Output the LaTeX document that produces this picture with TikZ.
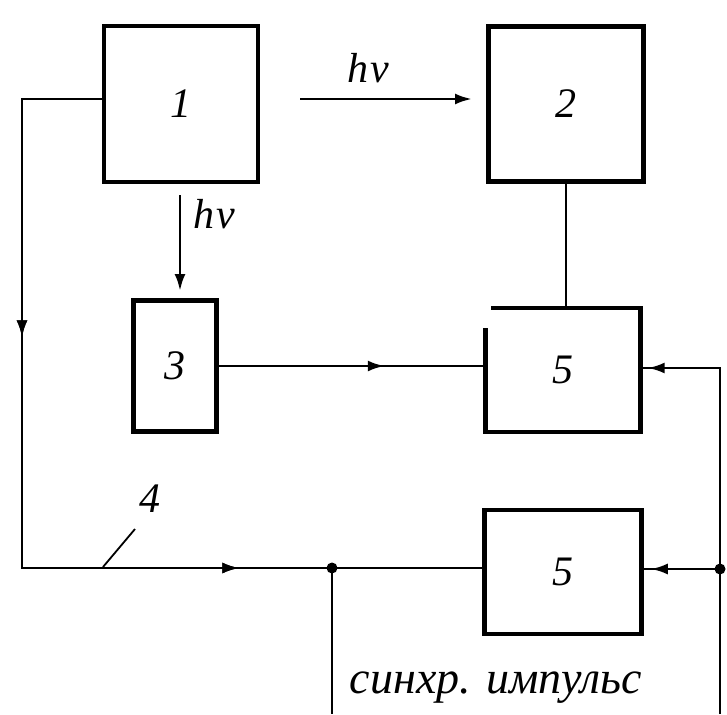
\documentclass[tikz,border=0pt]{standalone}
\usepackage{fontspec}
\setmainfont{Liberation Serif}
\usetikzlibrary{arrows.meta,decorations.markings}
\newcommand\numfont{\fontsize{42}{42}\selectfont\itshape}
\newcommand\hvfont{\fontsize{42}{42}\selectfont\itshape}
\newcommand\txtfont{\fontsize{46}{46}\selectfont\itshape}
\tikzset{
  blk/.style={draw, line width=4.5pt, inner sep=0pt},
  conn/.style={line width=2.8pt},
  tip/.style={-{Latex[length=17pt,width=11pt]}},
  midarrow/.style={postaction={decorate}, decoration={markings,
      mark=at position #1 with {\arrow{Latex[length=17pt,width=11pt]}}}},
}
\begin{document}
\begin{tikzpicture}[x=1pt,y=-1pt]
\useasboundingbox (0,0) rectangle (727,714);
% blocks
\node[blk, minimum width=154pt, minimum height=156pt] (b1) at (181,104) {\numfont 1};
\node[blk, minimum width=155pt, minimum height=155pt] (b2) at (566,104) {\numfont 2};
\node[blk, minimum width=83pt, minimum height=131pt] (b3) at (175,366) {\numfont 3};
\node[inner sep=0pt, minimum width=155pt, minimum height=124pt] (b5a) at (563,370) {\numfont 5};
\draw[line width=4.5pt] ([xshift=6pt]b5a.north west) -- (b5a.north east) -- (b5a.south east) -- (b5a.south west) -- ([yshift=-20pt]b5a.north west);
\node[blk, minimum width=157pt, minimum height=124pt] (b5b) at (563,572) {\numfont 5};
% coordinates
\coordinate (hs) at (300,99);
\coordinate (he) at (472,99);
\coordinate (vs) at (180,195);
\coordinate (ve) at (180,291);
\coordinate (lt) at (22,99);
\coordinate (lb) at (22,568);
\coordinate (d1) at (332,568);
\coordinate (d1b) at (332,714);
\coordinate (rt) at (720,368);
\coordinate (d2) at (720,569);
\coordinate (rb) at (720,714);
\coordinate (l4a) at (135,529);
\coordinate (l4b) at (103,567);
% light arrows
\draw[conn, tip] (hs) -- (he);
\node[anchor=south] (hv1) at (368,86) {\hvfont h\kern2pt ν};
\draw[conn, tip] (vs) -- (ve);
\node[anchor=west] (hv2) at (190,214) {\hvfont h\kern2pt ν};
% connectors
\draw[conn, midarrow=318pt, midarrow=766pt] ([yshift=5pt]b1.west) -- (lt) -- (lb) -- (d1) -- (b5b.west |- d1);
\draw[conn, midarrow=166pt] (b3.east) -- (b5a.west |- b3.east);
\draw[conn] (b2.south) -- (b5a.north -| b2.south);
\draw[conn, midarrow=-7pt] (rb) -- (rt) -- (b5a.east |- rt);
\draw[conn, midarrow=-7pt] (d2) -- (b5b.east |- d2);
\draw[conn] (d1) -- (d1b);
\fill (d1) circle (5.5pt);
\fill (d2) circle (5.5pt);
% label 4
\draw[line width=1.8pt] (l4a) -- (l4b);
\node (n4) at (150,499) {\numfont 4};
% sync pulse
\node (sync) at (496,688) {\txtfont синхр. импульс};
\end{tikzpicture}
\end{document}
